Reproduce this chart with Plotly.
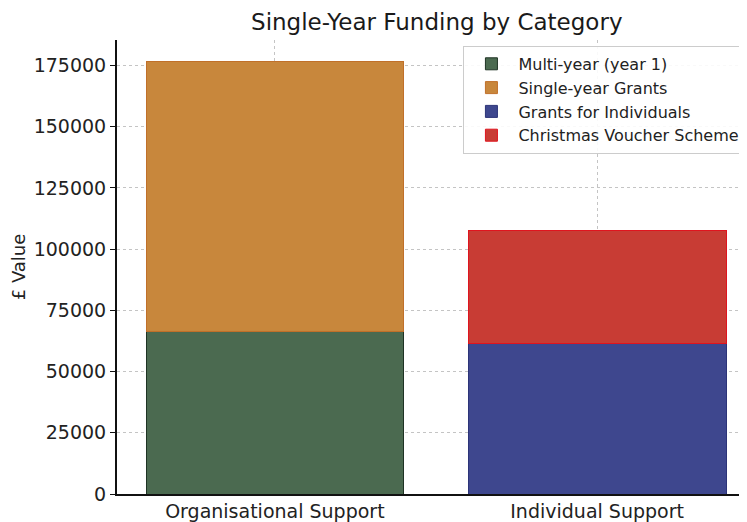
import plotly.graph_objects as go

categories = ["Organisational Support", "Individual Support"]
series_names = ["Multi-year (year 1)", "Single-year Grants", "Grants for Individuals", "Christmas Voucher Scheme"]
multi_year = [66300, None]
single_year = [110300, None]
individuals = [None, 61300]
christmas = [None, 46300]
colors = ["#4b6a50", "#c8873c", "#3e478e", "#c83c34"]
edge_colors = ["#1f3324", "#c0702a", "#2c3478", "#e0141e"]

fig = go.Figure()
for name, vals, c, ec in zip(series_names, [multi_year, single_year, individuals, christmas], colors, edge_colors):
    fig.add_trace(go.Bar(x=categories, y=vals, name=name, marker=dict(color=c, line=dict(color=ec, width=1)),
                         width=0.8))

fig.update_layout(
    width=747, height=522,
    barmode="stack",
    template="none",
    paper_bgcolor="white", plot_bgcolor="white",
    font=dict(family="DejaVu Sans", color="#222222"),
    title=dict(text="Single-Year Funding by Category", x=0.574, xanchor="center", y=0.973, yanchor="middle",
               font=dict(size=23, family="DejaVu Sans", color="#1a1a1a")),
    margin=dict(l=109, r=0, t=32, b=36, autoexpand=False),
    legend=dict(x=0.543, y=0.987, xanchor="left", yanchor="top", bgcolor="rgba(255,255,255,0.9)",
                bordercolor="#cccccc", borderwidth=1, font=dict(size=16, family="DejaVu Sans"),
                tracegroupgap=2, traceorder="normal", itemwidth=44),
    showlegend=True,
)
fig.update_xaxes(range=[-0.49, 1.49], showgrid=True, gridcolor="#c4c4c4", griddash="dot", gridwidth=1,
                 showline=True, linecolor="#111111", linewidth=2, ticks="",
                 tickfont=dict(size=19), ticklabelstandoff=-1,
                 zeroline=False, mirror=False, automargin=False)
fig.update_yaxes(range=[0, 185400], dtick=25000, tickformat="d", showgrid=True, gridcolor="#c4c4c4", griddash="dot",
                 gridwidth=1, showline=True, linecolor="#111111", linewidth=2, ticks="outside", ticklen=5,
                 tickcolor="#111111", tickfont=dict(size=19), zeroline=False, automargin=False,
                 title=dict(text="£ Value", font=dict(size=18), standoff=6))

fig.write_html("out.html")
